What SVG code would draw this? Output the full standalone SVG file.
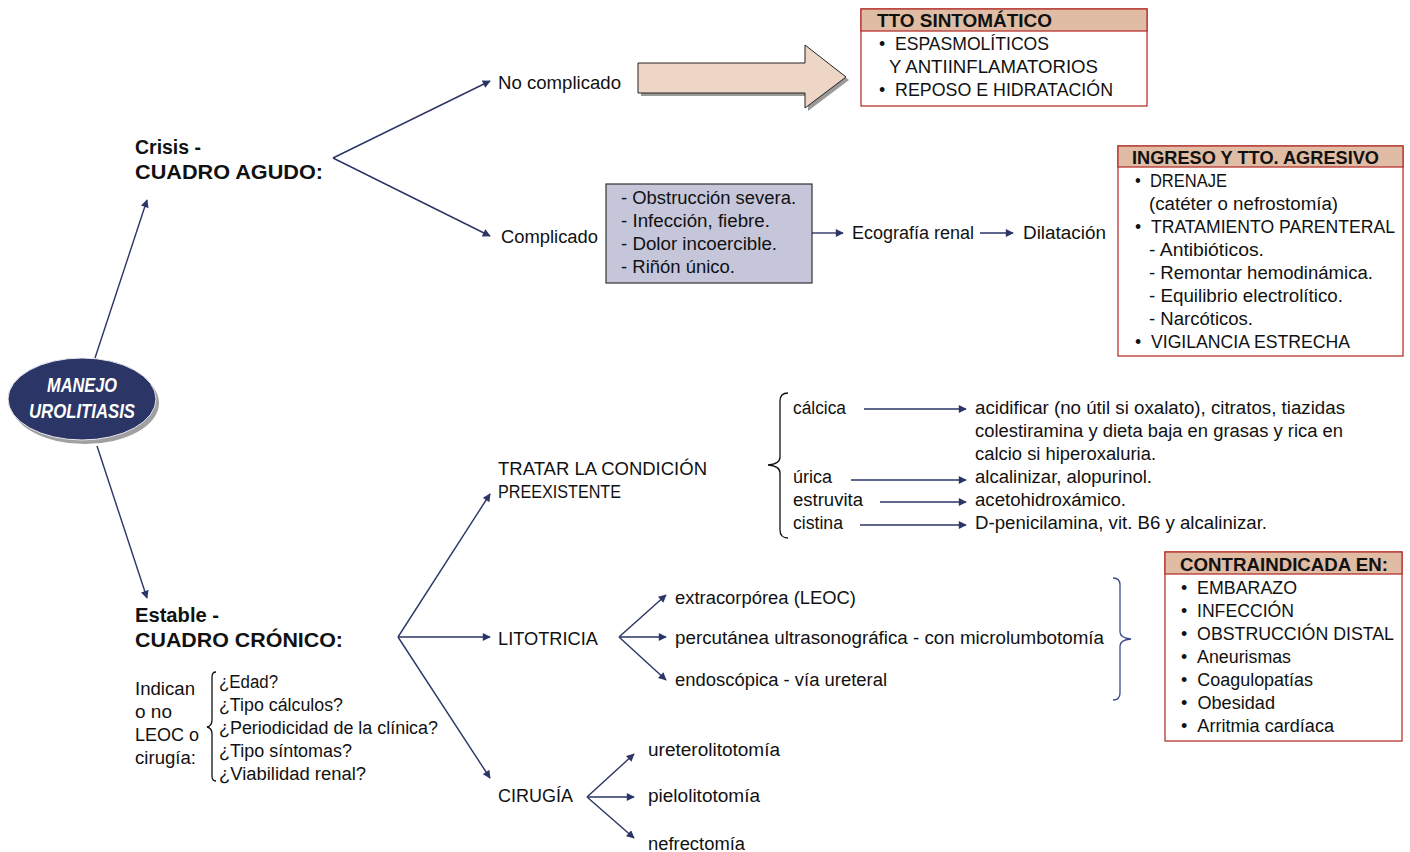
<svg xmlns="http://www.w3.org/2000/svg" width="1410" height="852" viewBox="0 0 1410 852">
<defs>
<style>
text{font-family:"Liberation Sans",Arial,sans-serif;font-size:18px;fill:#111}
.b{font-weight:bold;font-size:20px}
.h{font-weight:bold;font-size:18px}
.c{stroke:#2b3566;stroke-width:1.4;fill:none}
.brace{fill:none;stroke:#111;stroke-width:1.3}
.box{fill:#fff;stroke:#b5342f;stroke-width:1.3}
.hdr{fill:#dfbca3;stroke:#b5342f;stroke-width:1.3}
.root{fill:#fff;font-weight:bold;font-style:italic;font-size:21px}
</style>
<marker id="ah" viewBox="0 0 10 10" refX="9" refY="5" markerWidth="9" markerHeight="8" markerUnits="userSpaceOnUse" orient="auto">
<path d="M0,0 L10,5 L0,10 z" fill="#2b3566"/>
</marker>
</defs>
<rect width="1410" height="852" fill="#fff"/>

<g id="connectors">
<line class="c" x1="95" y1="358" x2="147" y2="200" marker-end="url(#ah)"/>
<line class="c" x1="97" y1="446" x2="147" y2="598" marker-end="url(#ah)"/>
<line class="c" x1="333" y1="158" x2="490" y2="81" marker-end="url(#ah)"/>
<line class="c" x1="333" y1="158" x2="490" y2="236" marker-end="url(#ah)"/>
<line class="c" x1="812" y1="233" x2="843" y2="233" marker-end="url(#ah)"/>
<line class="c" x1="980" y1="233" x2="1013" y2="233" marker-end="url(#ah)"/>
<line class="c" x1="398" y1="637" x2="490" y2="494" marker-end="url(#ah)"/>
<line class="c" x1="398" y1="637" x2="490" y2="637" marker-end="url(#ah)"/>
<line class="c" x1="398" y1="637" x2="490" y2="778" marker-end="url(#ah)"/>
<line class="c" x1="864" y1="409" x2="966" y2="409" marker-end="url(#ah)"/>
<line class="c" x1="851" y1="480" x2="966" y2="480" marker-end="url(#ah)"/>
<line class="c" x1="880" y1="502" x2="966" y2="502" marker-end="url(#ah)"/>
<line class="c" x1="860" y1="525" x2="966" y2="525" marker-end="url(#ah)"/>
<line class="c" x1="619" y1="637" x2="666" y2="595" marker-end="url(#ah)"/>
<line class="c" x1="619" y1="637" x2="666" y2="637" marker-end="url(#ah)"/>
<line class="c" x1="619" y1="637" x2="666" y2="680" marker-end="url(#ah)"/>
<line class="c" x1="587" y1="797" x2="634" y2="754" marker-end="url(#ah)"/>
<line class="c" x1="587" y1="797" x2="634" y2="797" marker-end="url(#ah)"/>
<line class="c" x1="587" y1="797" x2="634" y2="838" marker-end="url(#ah)"/>
</g>

<g id="root">
<ellipse cx="85" cy="403" rx="74" ry="41" fill="#a0a0a0"/>
<ellipse cx="82" cy="399" rx="74" ry="41" fill="#2b3566" stroke="#e8e8f0" stroke-width="1"/>
<text class="root" x="82" y="392" text-anchor="middle" textLength="70" lengthAdjust="spacingAndGlyphs">MANEJO</text>
<text class="root" x="82" y="418" text-anchor="middle" textLength="106" lengthAdjust="spacingAndGlyphs">UROLITIASIS</text>
</g>

<g id="crisis">
<text class="b" x="135" y="154" textLength="66" lengthAdjust="spacingAndGlyphs">Crisis -</text>
<text class="b" x="135" y="179" textLength="188" lengthAdjust="spacingAndGlyphs">CUADRO AGUDO:</text>
</g>

<g id="nocomplicado">
<text x="498" y="89" textLength="123" lengthAdjust="spacingAndGlyphs">No complicado</text>
</g>

<g id="blockarrow">
<path d="M641,66 L808,66 L808,48 L849,80 L808,111 L808,96 L641,96 z" fill="#9a9a9a"/>
<path d="M638,63 L805,63 L805,45 L846,77 L805,108 L805,93 L638,93 z" fill="#eed6c6" stroke="#222" stroke-width="1"/>
</g>

<g id="tto">
<rect class="box" x="861" y="9" width="286" height="97"/>
<rect class="hdr" x="861" y="9" width="286" height="22"/>
<text class="h" x="877" y="27" textLength="175" lengthAdjust="spacingAndGlyphs">TTO SINTOMÁTICO</text>
<text x="879" y="50" textLength="170" lengthAdjust="spacingAndGlyphs">•&#160;&#160;ESPASMOLÍTICOS</text>
<text x="889" y="73" textLength="209" lengthAdjust="spacingAndGlyphs">Y ANTIINFLAMATORIOS</text>
<text x="879" y="96" textLength="234" lengthAdjust="spacingAndGlyphs">•&#160;&#160;REPOSO E HIDRATACIÓN</text>
</g>

<g id="complicado">
<text x="501" y="243" textLength="97" lengthAdjust="spacingAndGlyphs">Complicado</text>
</g>

<g id="criterios">
<rect x="606" y="184" width="206" height="99" fill="#c5c6da" stroke="#333" stroke-width="1.2"/>
<text x="621" y="204" textLength="175" lengthAdjust="spacingAndGlyphs">- Obstrucción severa.</text>
<text x="621" y="227" textLength="149" lengthAdjust="spacingAndGlyphs">- Infección, fiebre.</text>
<text x="621" y="250" textLength="156" lengthAdjust="spacingAndGlyphs">- Dolor incoercible.</text>
<text x="621" y="273" textLength="114" lengthAdjust="spacingAndGlyphs">- Riñón único.</text>
</g>

<g id="ecografia">
<text x="852" y="239" textLength="122" lengthAdjust="spacingAndGlyphs">Ecografía renal</text>
</g>
<g id="dilatacion">
<text x="1023" y="239" textLength="83" lengthAdjust="spacingAndGlyphs">Dilatación</text>
</g>

<g id="ingreso">
<rect class="box" x="1118" y="146" width="285" height="210"/>
<rect class="hdr" x="1118" y="146" width="285" height="21"/>
<text class="h" x="1132" y="164" textLength="247" lengthAdjust="spacingAndGlyphs">INGRESO Y TTO. AGRESIVO</text>
<text x="1135" y="187" textLength="92" lengthAdjust="spacingAndGlyphs">•&#160;&#160;DRENAJE</text>
<text x="1149" y="210" textLength="189" lengthAdjust="spacingAndGlyphs">(catéter o nefrostomía)</text>
<text x="1135" y="233" textLength="260" lengthAdjust="spacingAndGlyphs">•&#160;&#160;TRATAMIENTO PARENTERAL</text>
<text x="1149" y="256" textLength="115" lengthAdjust="spacingAndGlyphs">- Antibióticos.</text>
<text x="1149" y="279" textLength="224" lengthAdjust="spacingAndGlyphs">- Remontar hemodinámica.</text>
<text x="1149" y="302" textLength="194" lengthAdjust="spacingAndGlyphs">- Equilibrio electrolítico.</text>
<text x="1149" y="325" textLength="104" lengthAdjust="spacingAndGlyphs">- Narcóticos.</text>
<text x="1135" y="348" textLength="215" lengthAdjust="spacingAndGlyphs">•&#160;&#160;VIGILANCIA ESTRECHA</text>
</g>

<g id="estable">
<text class="b" x="135" y="622" textLength="84" lengthAdjust="spacingAndGlyphs">Estable -</text>
<text class="b" x="135" y="647" textLength="208" lengthAdjust="spacingAndGlyphs">CUADRO CRÓNICO:</text>
</g>

<g id="indican">
<text x="135" y="695" textLength="60" lengthAdjust="spacingAndGlyphs">Indican</text>
<text x="135" y="718" textLength="37" lengthAdjust="spacingAndGlyphs">o no</text>
<text x="135" y="741" textLength="64" lengthAdjust="spacingAndGlyphs">LEOC o</text>
<text x="135" y="764" textLength="61" lengthAdjust="spacingAndGlyphs">cirugía:</text>
<path class="brace" d="M216,672 Q212,672 212,677 L212,720 Q212,726 207,727 Q212,728 212,734 L212,776 Q212,781 216,781"/>
<text x="219" y="688" textLength="59" lengthAdjust="spacingAndGlyphs">¿Edad?</text>
<text x="219" y="711" textLength="124" lengthAdjust="spacingAndGlyphs">¿Tipo cálculos?</text>
<text x="219" y="734" textLength="219" lengthAdjust="spacingAndGlyphs">¿Periodicidad de la clínica?</text>
<text x="219" y="757" textLength="133" lengthAdjust="spacingAndGlyphs">¿Tipo síntomas?</text>
<text x="219" y="780" textLength="147" lengthAdjust="spacingAndGlyphs">¿Viabilidad renal?</text>
</g>

<g id="tratar">
<text x="498" y="475" textLength="209" lengthAdjust="spacingAndGlyphs">TRATAR LA CONDICIÓN</text>
<text x="498" y="498" textLength="123" lengthAdjust="spacingAndGlyphs">PREEXISTENTE</text>
</g>

<g id="tipos">
<path class="brace" d="M788,393 Q780,393 780,401 L780,457 Q780,464 768,465 Q780,466 780,473 L780,530 Q780,538 788,538"/>
<text x="793" y="414" textLength="53" lengthAdjust="spacingAndGlyphs">cálcica</text>
<text x="793" y="483" textLength="39" lengthAdjust="spacingAndGlyphs">úrica</text>
<text x="793" y="506" textLength="70" lengthAdjust="spacingAndGlyphs">estruvita</text>
<text x="793" y="529" textLength="50" lengthAdjust="spacingAndGlyphs">cistina</text>
</g>

<g id="tratamientos">
<text x="975" y="414" textLength="370" lengthAdjust="spacingAndGlyphs">acidificar (no útil si oxalato), citratos, tiazidas</text>
<text x="975" y="437" textLength="368" lengthAdjust="spacingAndGlyphs">colestiramina y dieta baja en grasas y rica en</text>
<text x="975" y="460" textLength="181" lengthAdjust="spacingAndGlyphs">calcio si hiperoxaluria.</text>
<text x="975" y="483" textLength="177" lengthAdjust="spacingAndGlyphs">alcalinizar, alopurinol.</text>
<text x="975" y="506" textLength="151" lengthAdjust="spacingAndGlyphs">acetohidroxámico.</text>
<text x="975" y="529" textLength="292" lengthAdjust="spacingAndGlyphs">D-penicilamina, vit. B6 y alcalinizar.</text>
</g>

<g id="litotricia">
<text x="498" y="645" textLength="100" lengthAdjust="spacingAndGlyphs">LITOTRICIA</text>
</g>

<g id="tipos-litotricia">
<text x="675" y="604" textLength="181" lengthAdjust="spacingAndGlyphs">extracorpórea (LEOC)</text>
<text x="675" y="644" textLength="429" lengthAdjust="spacingAndGlyphs">percutánea ultrasonográfica - con microlumbotomía</text>
<text x="675" y="686" textLength="212" lengthAdjust="spacingAndGlyphs">endoscópica - vía ureteral</text>
<path d="M1113,578 Q1120,578 1120,585 L1120,632 Q1120,638 1131,639 Q1120,640 1120,646 L1120,693 Q1120,700 1113,700" fill="none" stroke="#3a4a8a" stroke-width="1.3"/>
</g>

<g id="contraindicada">
<rect class="box" x="1165" y="552" width="237" height="189"/>
<rect class="hdr" x="1165" y="552" width="237" height="22"/>
<text class="h" x="1180" y="571" textLength="208" lengthAdjust="spacingAndGlyphs">CONTRAINDICADA EN:</text>
<text x="1181" y="594" textLength="116" lengthAdjust="spacingAndGlyphs">•&#160;&#160;EMBARAZO</text>
<text x="1181" y="617" textLength="113" lengthAdjust="spacingAndGlyphs">•&#160;&#160;INFECCIÓN</text>
<text x="1181" y="640" textLength="213" lengthAdjust="spacingAndGlyphs">•&#160;&#160;OBSTRUCCIÓN DISTAL</text>
<text x="1181" y="663" textLength="110" lengthAdjust="spacingAndGlyphs">•&#160;&#160;Aneurismas</text>
<text x="1181" y="686" textLength="132" lengthAdjust="spacingAndGlyphs">•&#160;&#160;Coagulopatías</text>
<text x="1181" y="709" textLength="94" lengthAdjust="spacingAndGlyphs">•&#160;&#160;Obesidad</text>
<text x="1181" y="732" textLength="153" lengthAdjust="spacingAndGlyphs">•&#160;&#160;Arritmia cardíaca</text>
</g>

<g id="cirugia">
<text x="498" y="802" textLength="75" lengthAdjust="spacingAndGlyphs">CIRUGÍA</text>
</g>

<g id="tipos-cirugia">
<text x="648" y="756" textLength="132" lengthAdjust="spacingAndGlyphs">ureterolitotomía</text>
<text x="648" y="802" textLength="112" lengthAdjust="spacingAndGlyphs">pielolitotomía</text>
<text x="648" y="850" textLength="97" lengthAdjust="spacingAndGlyphs">nefrectomía</text>
</g>
</svg>
